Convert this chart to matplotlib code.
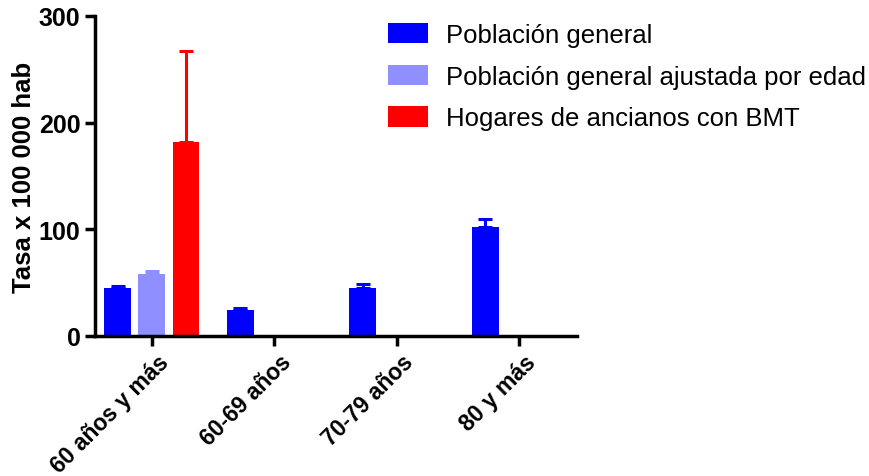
import numpy as np
import matplotlib
matplotlib.use("Agg")
import matplotlib.pyplot as plt
import matplotlib.transforms as mtransforms

plt.rcParams['font.family'] = ['Liberation Sans', 'DejaVu Sans']

grupos = ["60 años y más", "60-69 años", "70-79 años", "80 y más"]

# Población general (todas las edades)
pob_general = [45, 24, 45, 102]
pob_general_err = [2, 2, 3.5, 8]

# solo el primer grupo
pob_ajustada = [58]
pob_ajustada_err = [3]

hogares_bmt = [182]
hogares_bmt_err = [85]

x = np.arange(len(grupos))
off = 0.278
w = 0.22

fig = plt.figure(figsize=(8.7, 4.77), dpi=100)
ax = fig.add_axes([95/870, 1-337/477, (577-95)/870, 320/477])

ekw = dict(elinewidth=2.2, capthick=2.2)
ax.bar(x - off, pob_general, w, color="#0000ff", label="Población general",
       yerr=[np.zeros(len(pob_general)), pob_general_err], capsize=5,
       error_kw=dict(ecolor="#0000ff", **ekw))
ax.bar(x[:1], pob_ajustada, w, color="#8f8fff",
       label="Población general ajustada por edad",
       yerr=[[0], pob_ajustada_err], capsize=5,
       error_kw=dict(ecolor="#8f8fff", **ekw))
ax.bar(x[:1] + off, hogares_bmt, w, color="#ff0000",
       label="Hogares de ancianos con BMT",
       yerr=[[0], hogares_bmt_err], capsize=5,
       error_kw=dict(ecolor="#ff0000", **ekw))

ax.set_xlim(-0.465, 3.47)
ax.set_ylim(0, 300)
ax.set_yticks([0, 100, 200, 300])
ax.set_xticks(x)
ax.set_xticklabels(grupos, rotation=45, ha="right", va="top",
                   rotation_mode="anchor")

for s in ["top", "right"]:
    ax.spines[s].set_visible(False)
for s in ["left", "bottom"]:
    ax.spines[s].set_linewidth(2.5)
ax.tick_params(width=2.5, length=7, labelsize=18)
ax.tick_params(axis="x", labelsize=16.5, pad=3)
shift = mtransforms.ScaledTranslation(5/100, 0, fig.dpi_scale_trans)
for lab in ax.get_xticklabels():
    lab.set_fontweight("bold")
    lab.set_transform(lab.get_transform() + shift)
for lab in ax.get_yticklabels():
    lab.set_fontweight("bold")

ax.set_ylabel("Tasa x 100 000 hab", fontsize=18.5, fontweight="bold", labelpad=2)

ax.legend(loc="upper left", bbox_to_anchor=(388/870, 1-24/477),
          bbox_transform=fig.transFigure, frameon=False, fontsize=18.5,
          handlelength=1.55, handleheight=0.85, labelspacing=0.68,
          handletextpad=0.7, borderaxespad=0, borderpad=0)

fig.savefig("out.png", dpi=100)
